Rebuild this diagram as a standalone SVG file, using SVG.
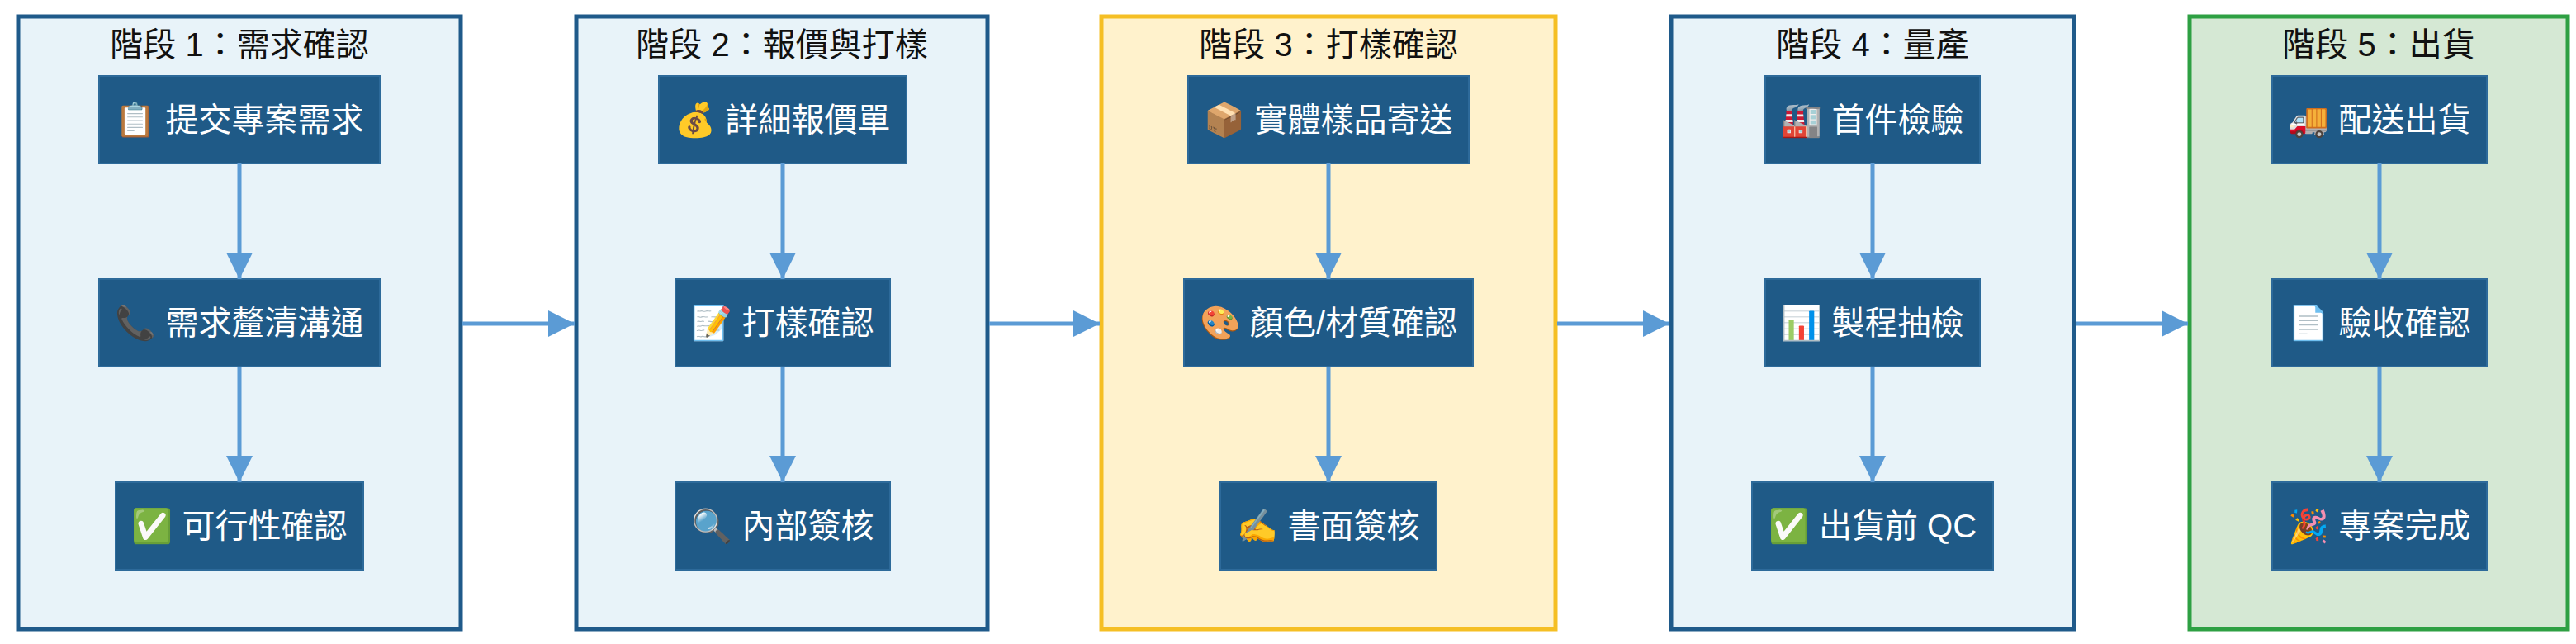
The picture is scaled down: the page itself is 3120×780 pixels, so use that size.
<svg xmlns="http://www.w3.org/2000/svg" width="3120" height="780" viewBox="0 0 3120 780">
<style>
.stage{stroke-width:5}
.s-blue{fill:#e8f3f9;stroke:#1f5a8a}
.s-yellow{fill:#fff2cc;stroke:#f5bf24}
.s-green{fill:#d5e8d4;stroke:#2ea043}
.title{font-family:"Liberation Sans","Noto Sans CJK TC",sans-serif;font-size:40px;fill:#111;text-anchor:middle}
.node rect{fill:#1f5a87;stroke:#2d6a9a;stroke-width:2}
.node text{font-family:"Liberation Sans","Noto Sans CJK TC",sans-serif;font-size:40px;fill:#fff;text-anchor:middle;dominant-baseline:central}
.conn line{stroke:#5b9bd5;stroke-width:5}
</style>
<defs>
<marker id="ah" viewBox="0 0 10 10" refX="10" refY="5" markerWidth="6.5" markerHeight="6.5" markerUnits="strokeWidth" orient="auto">
<path d="M0,0 L10,5 L0,10 z" fill="#5b9bd5"/>
</marker>
</defs>
<rect width="3120" height="780" fill="#fff"/>
<g id="stage1"><rect class="stage s-blue" x="22" y="20" width="536" height="742"/><text class="title" x="290" y="68">階段 1：需求確認</text></g>
<g id="stage2"><rect class="stage s-blue" x="698" y="20" width="498" height="742"/><text class="title" x="947" y="68">階段 2：報價與打樣</text></g>
<g id="stage3"><rect class="stage s-yellow" x="1334" y="20" width="550" height="742"/><text class="title" x="1609" y="68">階段 3：打樣確認</text></g>
<g id="stage4"><rect class="stage s-blue" x="2024" y="20" width="488" height="742"/><text class="title" x="2268" y="68">階段 4：量產</text></g>
<g id="stage5"><rect class="stage s-green" x="2652" y="20" width="458" height="742"/><text class="title" x="2881" y="68">階段 5：出貨</text></g>

<g id="n1" class="node"><rect x="120" y="92" width="340" height="106"/><text x="290" y="145">📋 提交專案需求</text></g>
<g id="n2" class="node"><rect x="120" y="338" width="340" height="106"/><text x="290" y="391">📞 需求釐清溝通</text></g>
<g id="n3" class="node"><rect x="140" y="584" width="300" height="106"/><text x="290" y="637">✅ 可行性確認</text></g>
<g id="n4" class="node"><rect x="798" y="92" width="300" height="106"/><text x="948" y="145">💰 詳細報價單</text></g>
<g id="n5" class="node"><rect x="818" y="338" width="260" height="106"/><text x="948" y="391">📝 打樣確認</text></g>
<g id="n6" class="node"><rect x="818" y="584" width="260" height="106"/><text x="948" y="637">🔍 內部簽核</text></g>
<g id="n7" class="node"><rect x="1439" y="92" width="340" height="106"/><text x="1609" y="145">📦 實體樣品寄送</text></g>
<g id="n8" class="node"><rect x="1434" y="338" width="350" height="106"/><text x="1609" y="391">🎨 顏色/材質確認</text></g>
<g id="n9" class="node"><rect x="1478" y="584" width="262" height="106"/><text x="1609" y="637">✍️ 書面簽核</text></g>
<g id="n10" class="node"><rect x="2138" y="92" width="260" height="106"/><text x="2268" y="145">🏭 首件檢驗</text></g>
<g id="n11" class="node"><rect x="2138" y="338" width="260" height="106"/><text x="2268" y="391">📊 製程抽檢</text></g>
<g id="n12" class="node"><rect x="2122" y="584" width="292" height="106"/><text x="2268" y="637">✅ 出貨前 QC</text></g>
<g id="n13" class="node"><rect x="2752" y="92" width="260" height="106"/><text x="2882" y="145">🚚 配送出貨</text></g>
<g id="n14" class="node"><rect x="2752" y="338" width="260" height="106"/><text x="2882" y="391">📄 驗收確認</text></g>
<g id="n15" class="node"><rect x="2752" y="584" width="260" height="106"/><text x="2882" y="637">🎉 專案完成</text></g>

<g id="connectors" class="conn">
<line x1="290" y1="198" x2="290" y2="338" marker-end="url(#ah)"/>
<line x1="290" y1="444" x2="290" y2="584" marker-end="url(#ah)"/>
<line x1="948" y1="198" x2="948" y2="338" marker-end="url(#ah)"/>
<line x1="948" y1="444" x2="948" y2="584" marker-end="url(#ah)"/>
<line x1="1609" y1="198" x2="1609" y2="338" marker-end="url(#ah)"/>
<line x1="1609" y1="444" x2="1609" y2="584" marker-end="url(#ah)"/>
<line x1="2268" y1="198" x2="2268" y2="338" marker-end="url(#ah)"/>
<line x1="2268" y1="444" x2="2268" y2="584" marker-end="url(#ah)"/>
<line x1="2882" y1="198" x2="2882" y2="338" marker-end="url(#ah)"/>
<line x1="2882" y1="444" x2="2882" y2="584" marker-end="url(#ah)"/>
<line x1="560" y1="392" x2="696" y2="392" marker-end="url(#ah)"/>
<line x1="1198" y1="392" x2="1332" y2="392" marker-end="url(#ah)"/>
<line x1="1886" y1="392" x2="2022" y2="392" marker-end="url(#ah)"/>
<line x1="2514" y1="392" x2="2650" y2="392" marker-end="url(#ah)"/>
</g>
</svg>
